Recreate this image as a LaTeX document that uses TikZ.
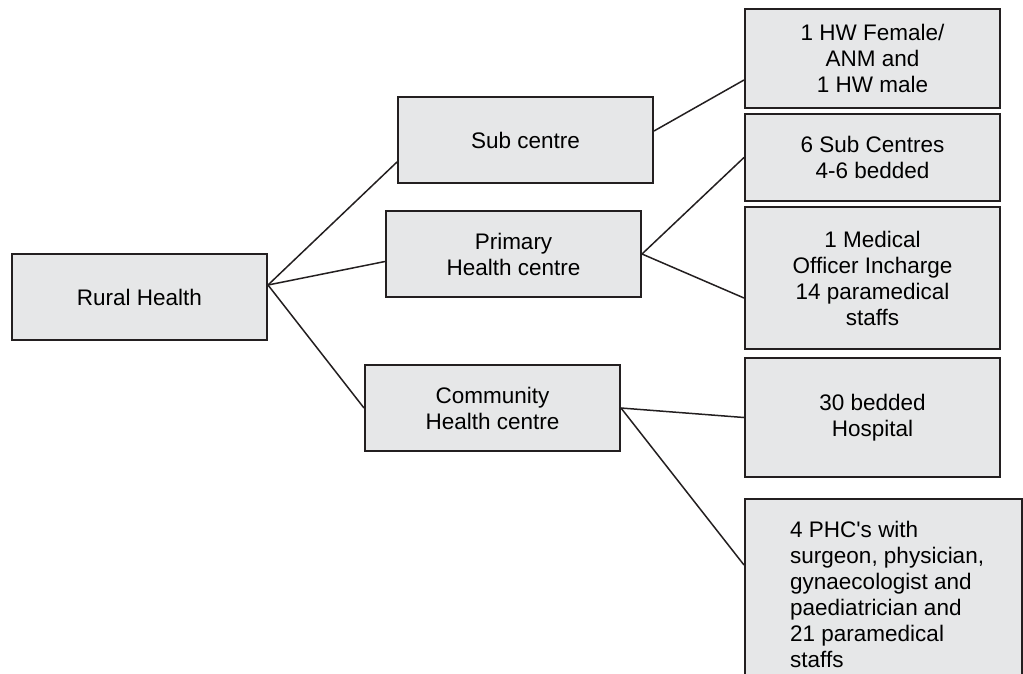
\documentclass[tikz,border=0pt]{standalone}
\usepackage{fontspec}
\setmainfont{Liberation Sans}
\usetikzlibrary{positioning}

\definecolor{boxfill}{HTML}{E6E7E8}
\definecolor{boxline}{HTML}{231F20}

\begin{document}
\begin{tikzpicture}[x=1pt,y=-1pt,
	box/.style={draw=boxline,fill=boxfill,line width=2pt,minimum width=255pt,
		minimum height=86pt,inner sep=0pt,align=center,
		font=\fontsize{22.5}{26}\selectfont},
	link/.style={draw=boxline,line width=1.5pt}]
	\clip (0,0) rectangle (1023,673);

	% middle level
	\node[box,anchor=north west] (rural) at (11,253) {Rural Health};
	\node[box,anchor=north west] (sub) at (397,96) {Sub centre};
	\node[box,anchor=north west] (phc) at (385,210) {Primary\\Health centre};
	\node[box,anchor=north west] (chc) at (364,364) {Community\\Health centre};

	% right column
	\node[box,anchor=north west,minimum height=99pt] (hw) at (744,8) {1 HW Female/\\ANM and\\1 HW male};
	\node[box,minimum height=87pt] (six) [below=4pt of hw] {6 Sub Centres\\4-6 bedded};
	\node[box,minimum height=142pt] (mo) [below=4pt of six] {1 Medical\\Officer Incharge\\14 paramedical\\staffs};
	\node[box,minimum height=119pt] (hosp) [below=7pt of mo] {30 bedded\\Hospital};
	\node[box,anchor=north west,minimum width=277pt,minimum height=200pt] (phcs) at (744,498) {};
	\node[anchor=north west,align=left,inner sep=0pt,font=\fontsize{22.5}{26}\selectfont]
		(phcstext) at (790,521) {4 PHC\textquotesingle s with\\surgeon, physician,\\gynaecologist and\\paediatrician and\\21 paramedical\\staffs};

	\path[link]
	([yshift=12pt]rural.east) edge ([yshift=-22pt]sub.west)
	                          edge ([yshift=-7.5pt]phc.west)
	                          edge (chc.west)

	([yshift=9pt]sub.east) edge ([yshift=-21.5pt]hw.west)

	(phc.east) edge (six.west)
	           edge ([yshift=-20pt]mo.west)

	(chc.east) edge (hosp.west)
	           edge ([yshift=-67pt]phcs.north west);
\end{tikzpicture}
\end{document}
